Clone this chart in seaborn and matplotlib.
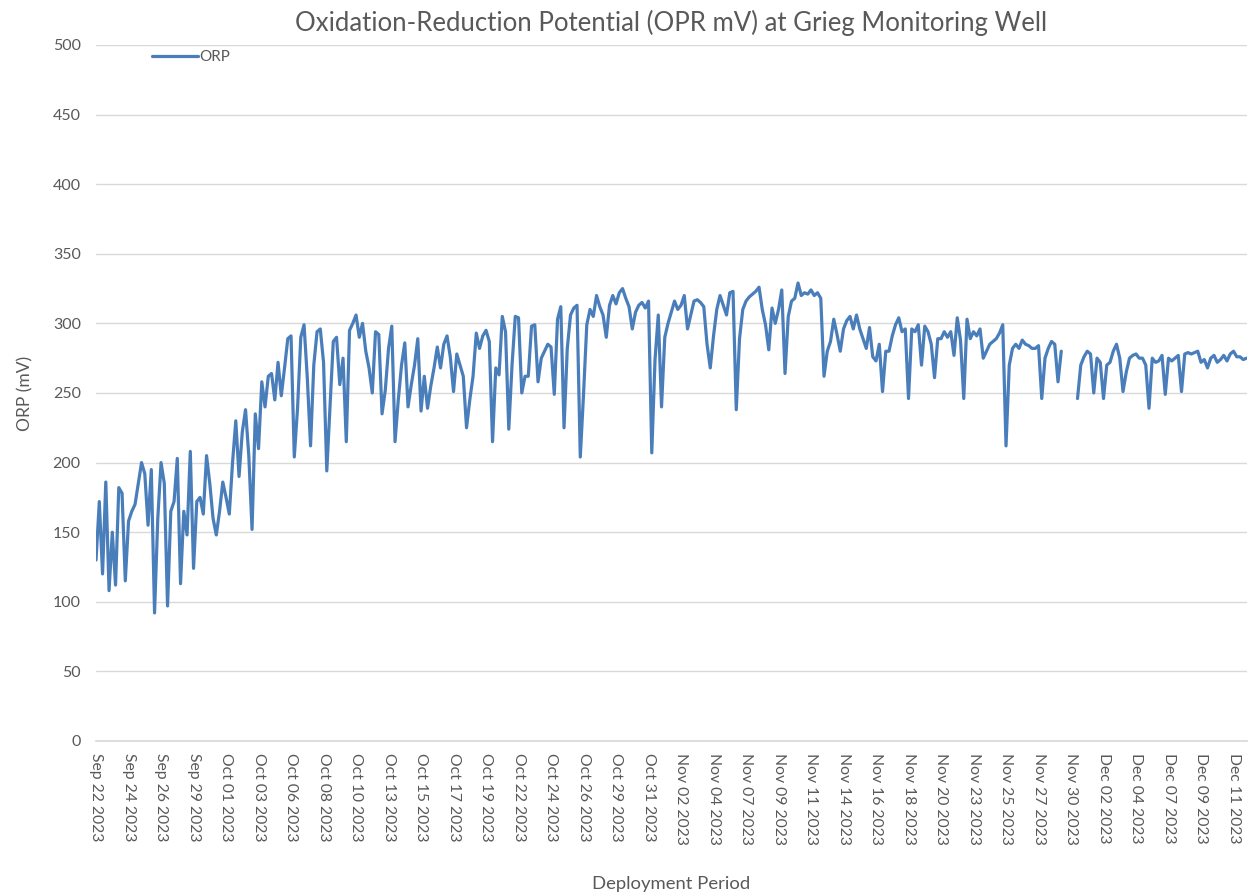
import numpy as np
import pandas as pd
import seaborn as sns
import matplotlib.pyplot as plt

# ORP readings (mV), one per logged sample in order; NaN = logger gap
orp_part1 = [
    130, 172, 120, 186, 108, 150, 112, 182, 178, 115,
    158, 165, 170, 185, 200, 192, 155, 195, 92, 160,
    200, 185, 97, 165, 172, 203, 113, 165, 148, 208,
    124, 172, 175, 163, 205, 185, 160, 148, 165, 186,
    175, 163, 200, 230, 190, 222, 238, 205, 152, 235,
    210, 258, 240, 262, 264, 245, 272, 248, 268, 289,
    291, 204, 239, 290, 299, 261, 212, 270, 294, 296,
    272, 194, 240, 287, 290, 256, 275, 215, 295, 300,
    306, 290, 300, 280, 268, 250, 294, 292, 235, 252,
    282, 298, 215, 245, 270, 286, 240, 256, 270, 289,
    237, 262, 239, 255, 268, 283, 268, 285, 291, 276,
    251, 278, 270, 262, 225, 245, 262, 293,
]
orp_part2 = [
    282, 291, 295, 287, 215, 268, 263, 305, 294, 224,
    270, 305, 304, 250, 262, 262, 298, 299, 258, 275,
    280, 285, 283, 249, 303, 312, 225, 282, 306, 311,
    313, 204, 249, 299, 310, 305, 320, 312, 306, 290,
    313, 320, 314, 322, 325, 318, 312, 296, 308, 313,
    315, 311, 316, 207, 274, 306, 240, 290,
    300, 308, 316, 310, 313, 320, 296, 306, 316, 317,
    315, 312, 285, 268, 291, 310, 320, 313, 306, 322,
    323, 238, 289, 310, 316, 319, 321, 323, 326, 310,
    299, 281, 311, 300, 310, 324, 264, 305, 316, 318,
    329, 320, 322, 321, 324, 320, 322, 318, 262, 280,
    287, 303, 292, 280, 296, 302, 305, 296,
]
orp_part3 = [
    306, 296, 289, 282, 297, 276, 273, 285, 251, 280,
    280, 291, 299, 304, 294, 296, 246, 296, 294, 299,
    270, 298, 294, 285, 261, 289, 289, 294, 290, 294,
    277, 304, 288, 246, 303, 289, 294, 291, 296, 275,
    280, 285, 287, 289, 293, 299, 212, 270, 282, 285,
    282, 288, 285, 284, 282, 282, 284,
    246, 275, 282, 287, 285, 258, 280,
    np.nan, np.nan, np.nan, np.nan,
    246, 270, 276, 280, 278, 250, 275, 272, 246, 270,
    272, 280, 285, 275, 251, 265, 275, 277, 278, 275,
    275, 270, 239, 275, 272, 273, 277, 249, 275, 273,
    275, 277, 251, 278, 279, 278, 279, 280, 272, 274,
    268, 275, 277, 272, 274, 277, 273, 278, 280, 276,
    276, 274, 275,
]
orp = orp_part1 + orp_part2 + orp_part3

# category labels shown on the axis (every 10th sample)
date_labels = [
    "Sep 22 2023", "Sep 24 2023", "Sep 26 2023", "Sep 29 2023",
    "Oct 01 2023", "Oct 03 2023", "Oct 06 2023", "Oct 08 2023",
    "Oct 10 2023", "Oct 13 2023", "Oct 15 2023", "Oct 17 2023",
    "Oct 19 2023", "Oct 22 2023", "Oct 24 2023", "Oct 26 2023",
    "Oct 29 2023", "Oct 31 2023", "Nov 02 2023", "Nov 04 2023",
    "Nov 07 2023", "Nov 09 2023", "Nov 11 2023", "Nov 14 2023",
    "Nov 16 2023", "Nov 18 2023", "Nov 20 2023", "Nov 23 2023",
    "Nov 25 2023", "Nov 27 2023", "Nov 30 2023", "Dec 02 2023",
    "Dec 04 2023", "Dec 07 2023", "Dec 09 2023", "Dec 11 2023",
]
label_step = 10

df = pd.DataFrame({"sample": np.arange(len(orp)), "ORP": orp})
df["segment"] = df["ORP"].isna().cumsum()

sns.set_theme(style="white")
plt.rcParams["font.family"] = ["Lato", "DejaVu Sans"]
grey = "#595959"
blue = "#4A7EBB"

fig = plt.figure(figsize=(12.49, 8.92), dpi=100)
ax = fig.add_axes([0.0769, 0.1693, 0.9211, 0.7803])

first = True
for seg, part in df.dropna().groupby("segment"):
    sns.lineplot(data=part, x="sample", y="ORP", ax=ax, color=blue,
                 linewidth=2.3, label="ORP" if first else None)
    first = False

ax.set_xlim(0, len(orp) - 1)
ax.set_ylim(0, 500)
ax.set_yticks(range(0, 501, 50))
ax.set_xticks(range(0, label_step * len(date_labels), label_step))
ax.set_xticklabels(date_labels, rotation=-90, fontsize=11.3, color=grey)
ax.tick_params(axis="y", labelsize=11.5, labelcolor=grey, length=0, pad=11)
ax.tick_params(axis="x", length=0, pad=9)
ax.yaxis.grid(True, color="#D9D9D9", linewidth=1)
for s in ["top", "right", "left"]:
    ax.spines[s].set_visible(False)
ax.spines["bottom"].set_color("#D9D9D9")

ax.set_title("Oxidation-Reduction Potential (OPR mV) at Grieg Monitoring Well",
             fontsize=18.5, color=grey, pad=10)
ax.set_xlabel("Deployment Period", fontsize=13.3, color=grey, labelpad=22)
ax.set_ylabel("ORP (mV)", fontsize=12.5, color=grey, labelpad=14)

leg = ax.legend(loc="upper left", bbox_to_anchor=(0.037, 1.012), frameon=False,
                fontsize=11, handlelength=3.0, handletextpad=0.1)
for t in leg.get_texts():
    t.set_color(grey)

fig.savefig("out.png", dpi=100)
